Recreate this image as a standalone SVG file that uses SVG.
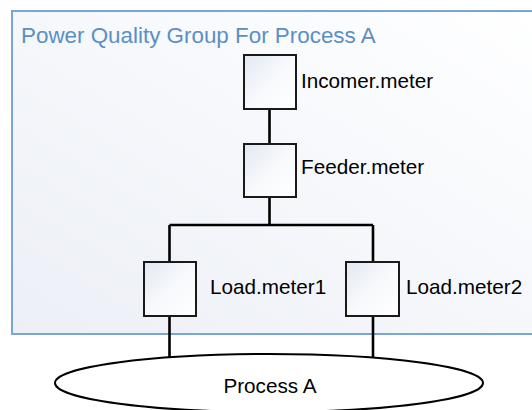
<svg xmlns="http://www.w3.org/2000/svg" width="532" height="410" viewBox="0 0 532 410">
<defs>
<linearGradient id="bg" x1="0" y1="1" x2="1" y2="0">
<stop offset="0" stop-color="#eceff6"/>
<stop offset="0.6" stop-color="#f7f9fc"/>
<stop offset="1" stop-color="#ffffff"/>
</linearGradient>
<linearGradient id="box" x1="0" y1="0" x2="1" y2="1">
<stop offset="0" stop-color="#e2e8f2"/>
<stop offset="0.5" stop-color="#f7f9fc"/>
<stop offset="1" stop-color="#ffffff"/>
</linearGradient>
<style>
.meter{fill:url(#box);stroke:#1a1a1a;stroke-width:2}
.lbl{font-family:"Liberation Sans",Arial,sans-serif;font-size:20.7px;fill:#000}
.wire{fill:none;stroke:#000;stroke-width:2.6}
</style>
</defs>
<rect width="532" height="410" fill="#ffffff"/>
<g id="group">
<rect x="12" y="11" width="530" height="323" fill="url(#bg)" stroke="#7aa6d4" stroke-width="2"/>
<text x="21" y="43" font-family="'Liberation Sans',Arial,sans-serif" font-size="22.4" fill="#5b8fc4">Power Quality Group For Process A</text>
</g>
<g id="connectors">
<path class="wire" d="M269.5 109V143M269.5 197V225M169.5 225H373M169.5 225V262M373 225V262M169.5 317V358M373 317V359"/>
</g>
<g id="process">
<ellipse cx="269" cy="383" rx="214" ry="29" fill="#ffffff" stroke="#000" stroke-width="2"/>
<text class="lbl" x="270" y="393" text-anchor="middle">Process A</text>
</g>
<g id="incomer">
<rect class="meter" x="244" y="55" width="52" height="54"/>
<text class="lbl" x="301" y="88">Incomer.meter</text>
</g>
<g id="feeder">
<rect class="meter" x="244" y="144" width="52" height="53"/>
<text class="lbl" x="301" y="174">Feeder.meter</text>
</g>
<g id="load1">
<rect class="meter" x="144" y="262" width="52" height="54"/>
<text class="lbl" x="210" y="294">Load.meter1</text>
</g>
<g id="load2">
<rect class="meter" x="346" y="262" width="53" height="54"/>
<text class="lbl" x="406" y="294">Load.meter2</text>
</g>
</svg>
